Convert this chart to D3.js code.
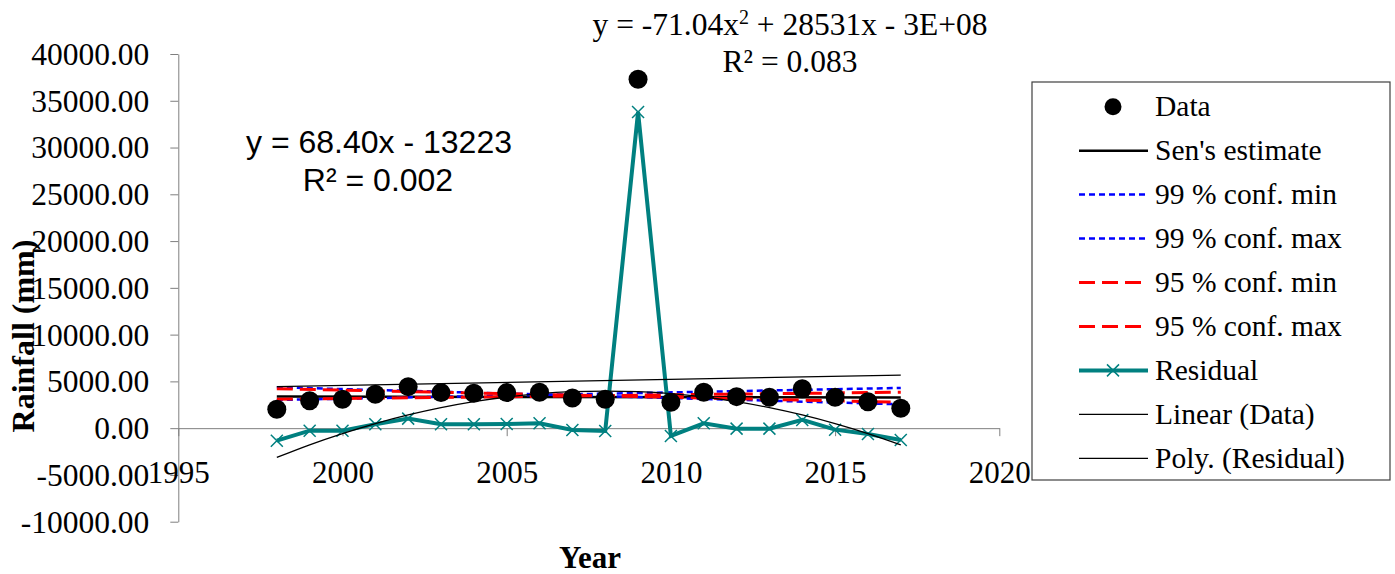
<!DOCTYPE html>
<html><head><meta charset="utf-8">
<script src="https://cdn.jsdelivr.net/npm/d3@7/dist/d3.min.js"></script>
<style>body{margin:0;background:#fff}svg{display:block}</style>
</head><body>
<script>
const years = [1998,1999,2000,2001,2002,2003,2004,2005,2006,2007,2008,2009,2010,2011,2012,2013,2014,2015,2016,2017];
const rainfall = [2020,2940,3090,3620,4440,3800,3730,3800,3840,3230,3090,37300,2770,3840,3370,3300,4220,3300,2830,2130];
const residual = [-1340,-270,-270,420,1020,420,420,450,520,-190,-300,33800,-830,520,-50,-50,880,-160,-620,-1260];
const lineYears = [1998,2017];
const sensEstimate = [3380,3270];
const conf99min = [4370,2550];
const conf99max = [3010,4300];
const conf95min = [4220,2770];
const conf95max = [3090,3840];
const linearTrend = [4440,5680];
const polyTrend = [-3130,-1780,-580,490,1410,2190,2830,3330,3690,3900,3970,3900,3690,3330,2830,2190,1410,490,-580,-1780];
const yTicks = [-10000,-5000,0,5000,10000,15000,20000,25000,30000,35000,40000];
const xTicks = [1995,2000,2005,2010,2015,2020];
const legendLabels = ["Data","Sen's estimate","99 % conf. min","99 % conf. max","95 % conf. min","95 % conf. max","Residual","Linear (Data)","Poly. (Residual)"];

const W=1395,H=574;
const svg=d3.select("body").append("svg").attr("width",W).attr("height",H);
const x=d3.scaleLinear().domain([1995,2020]).range([178.3,999.3]);
const y=d3.scaleLinear().domain([-10000,40000]).range([521.7,54]);
const serif="'Liberation Serif','Times New Roman',serif";
const sans="'Liberation Sans',Arial,sans-serif";
const axisColor="#7f7f7f";

// Y axis
const ya=svg.append("g").attr("transform",`translate(${x(1995)},0)`)
  .call(d3.axisLeft(y).tickValues(yTicks).tickSize(8).tickSizeOuter(0).tickFormat(d=>d.toFixed(2)));
ya.select(".domain").attr("stroke",axisColor);
ya.selectAll(".tick line").attr("stroke",axisColor);
ya.selectAll(".tick text").attr("font-family",serif).attr("font-size",31.5).attr("fill","#000").attr("x",-29).attr("dy","0.33em");

// X axis at y=0
const xa=svg.append("g").attr("transform",`translate(0,${y(0)})`)
  .call(d3.axisBottom(x).tickValues(xTicks).tickSize(8).tickSizeOuter(0).tickFormat(d=>String(d)));
xa.select(".domain").attr("stroke",axisColor);
xa.selectAll(".tick line").attr("stroke",axisColor);
xa.selectAll(".tick text").attr("font-family",serif).attr("font-size",31).attr("fill","#000").attr("y",55).attr("dy",0);

const ln=d3.line().x((d,i)=>x(lineYears[i])).y(d=>y(d));
const lnYears=d3.line().x((d,i)=>x(years[i])).y(d=>y(d));

function addLine(data,gen,color,width,dash){
  svg.append("path").datum(data).attr("d",gen).attr("fill","none").attr("stroke",color).attr("stroke-width",width).attr("stroke-dasharray",dash||null);
}
addLine(sensEstimate,ln,"#000",2.5);
addLine(conf99min,ln,"#0000ff",2.5,"6,4");
addLine(conf99max,ln,"#0000ff",2.5,"6,4");
addLine(conf95min,ln,"#ff0000",3,"16,7");
addLine(conf95max,ln,"#ff0000",3,"16,7");
addLine(residual,lnYears,"#008080",4);
// residual markers
svg.append("g").selectAll("path").data(residual).join("path")
  .attr("d",(d,i)=>{const cx=x(years[i]),cy=y(d),s=6;return `M${cx-s},${cy-s}L${cx+s},${cy+s}M${cx-s},${cy+s}L${cx+s},${cy-s}`;})
  .attr("stroke","#008080").attr("stroke-width",1.5).attr("fill","none");
addLine(linearTrend,ln,"#000",1.3);
addLine(polyTrend,d3.line().x((d,i)=>x(years[i])).y(d=>y(d)).curve(d3.curveNatural),"#000",1.3);

// data dots
svg.append("g").selectAll("circle").data(rainfall).join("circle")
  .attr("cx",(d,i)=>x(years[i])).attr("cy",d=>y(d)).attr("r",9.5).attr("fill","#000");

// equations
svg.append("text").attr("x",379).attr("y",153).attr("text-anchor","middle").attr("font-family",sans).attr("font-size",32).text("y = 68.40x - 13223");
svg.append("text").attr("x",378).attr("y",191).attr("text-anchor","middle").attr("font-family",sans).attr("font-size",32).text("R² = 0.002");
const eq2=svg.append("text").attr("x",790).attr("y",35).attr("text-anchor","middle").attr("font-family",serif).attr("font-size",31.5);
eq2.append("tspan").text("y = -71.04x");
eq2.append("tspan").attr("font-size",20).attr("dy",-11).text("2");
eq2.append("tspan").attr("dy",11).text(" + 28531x - 3E+08");
svg.append("text").attr("x",790).attr("y",72).attr("text-anchor","middle").attr("font-family",serif).attr("font-size",31.5).text("R² = 0.083");

// axis titles
svg.append("text").attr("x",590).attr("y",568).attr("text-anchor","middle").attr("font-family",serif).attr("font-weight","bold").attr("font-size",31).text("Year");
svg.append("text").attr("transform","translate(34,336) rotate(-90)").attr("text-anchor","middle").attr("font-family",serif).attr("font-weight","bold").attr("font-size",32).text("Rainfall (mm)");

// legend
const lg=svg.append("g");
lg.append("rect").attr("x",1032).attr("y",82).attr("width",358).attr("height",398).attr("fill","#fff").attr("stroke","#404040").attr("stroke-width",1.2);
const rowY=d3.scaleLinear().domain([0,8]).range([106.7,458.3]);
const styles=[
 {t:"dot"},
 {c:"#000",w:2.5},
 {c:"#0000ff",w:2.5,d:"6,4"},
 {c:"#0000ff",w:2.5,d:"6,4"},
 {c:"#ff0000",w:3,d:"16,7"},
 {c:"#ff0000",w:3,d:"16,7"},
 {c:"#008080",w:4,m:true},
 {c:"#000",w:1.3},
 {c:"#000",w:1.3}
];
legendLabels.forEach((lab,i)=>{
  const cy=rowY(i),s=styles[i];
  if(s.t==="dot"){lg.append("circle").attr("cx",1113).attr("cy",cy).attr("r",8.5).attr("fill","#000");}
  else{
    lg.append("line").attr("x1",1079).attr("x2",1148).attr("y1",cy).attr("y2",cy).attr("stroke",s.c).attr("stroke-width",s.w).attr("stroke-dasharray",s.d||null);
    if(s.m){lg.append("path").attr("d",`M1107,${cy-6}L1119,${cy+6}M1107,${cy+6}L1119,${cy-6}`).attr("stroke","#008080").attr("stroke-width",1.5);}
  }
  lg.append("text").attr("x",1155).attr("y",cy).attr("dy","0.33em").attr("font-family",serif).attr("font-size",29.5).attr("fill","#000").text(lab);
});
</script>
</body></html>
